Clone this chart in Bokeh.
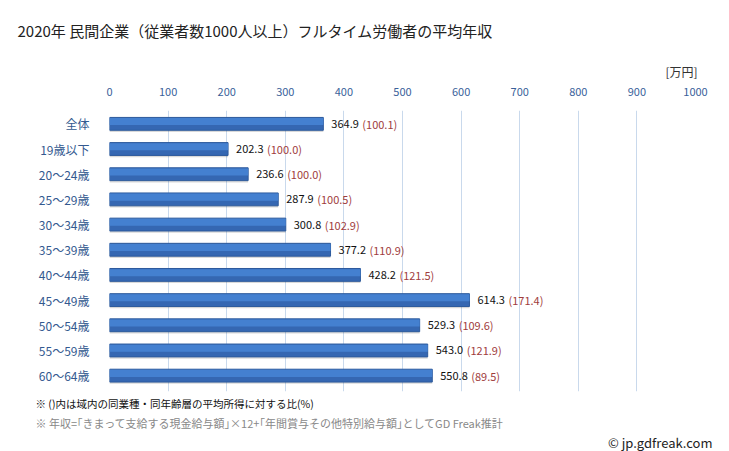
from bokeh.plotting import figure
from bokeh.models import Range1d, Title, LinearAxis, FixedTicker, ColumnDataSource
from bokeh.core.properties import value
from bokeh.transform import dodge
from bokeh.embed import file_html
from bokeh.resources import INLINE

categories = ["全体", "19歳以下", "20～24歳", "25～29歳", "30～34歳", "35～39歳",
              "40～44歳", "45～49歳", "50～54歳", "55～59歳", "60～64歳"]
incomes = [364.9, 202.3, 236.6, 287.9, 300.8, 377.2, 428.2, 614.3, 529.3, 543.0, 550.8]
ratios = [100.1, 100.0, 100.0, 100.5, 102.9, 110.9, 121.5, 171.4, 109.6, 121.9, 89.5]
x_ticks = [0, 100, 200, 300, 400, 500, 600, 700, 800, 900, 1000]

FONT = "Noto Sans CJK JP"
idx = list(range(len(categories)))
src = ColumnDataSource(dict(
    y=idx,
    income=incomes,
    vlab=[f"{v:.1f}" for v in incomes],
    rlab=[f"({r:.1f})" for r in ratios],
))

W, H = 729, 451
L, R, T, B = 109, 695, 110, 393   # frame edges in canvas pixels
p = figure(width=W, height=H, output_backend="svg", toolbar_location=None,
           x_range=Range1d(0, 1000), y_range=Range1d(10.63, -0.53),
           x_axis_location=None, y_axis_location="left",
           min_border_left=L, min_border_right=W - R, min_border_top=T, min_border_bottom=H - B)
p.outline_line_color = None
p.background_fill_color = "white"
p.border_fill_color = "white"

# grid
p.xgrid.ticker = FixedTicker(ticks=x_ticks)
p.xgrid.grid_line_color = "#c9d9ec"
p.xgrid.grid_line_width = 1
p.ygrid.grid_line_color = None

# top axis
ax = LinearAxis(ticker=FixedTicker(ticks=x_ticks))
ax.axis_line_color = None
ax.major_tick_line_color = None
ax.minor_tick_line_color = None
ax.major_label_text_color = "#3a5f9a"
ax.major_label_text_font = FONT
ax.major_label_text_font_size = "11px"
ax.major_label_standoff = 9
p.add_layout(ax, "above")

# left axis
ya = p.yaxis[0]
ya.ticker = FixedTicker(ticks=idx)
ya.major_label_overrides = {i: c for i, c in zip(idx, categories)}
ya.axis_line_color = None
ya.major_tick_line_color = None
ya.minor_tick_line_color = None
ya.major_label_text_color = "#33598f"
ya.major_label_text_font = FONT
ya.major_label_text_font_size = "12px"
ya.major_label_standoff = 14

# shadow + bars
p.hbar(y=dodge("y", 0.07), right="income", left=0, height=0.51, source=src,
       fill_color="#000000", fill_alpha=0.15, line_color=None)
p.hbar(y="y", right="income", left=0, height=0.51, source=src,
       fill_color="#3567b2", line_color="#2d5a9c", line_width=1)
p.hbar(y=dodge("y", -0.09), right="income", left=0, height=0.28, source=src,
       fill_color="#4480d0", line_color=None)

p.text(x="income", y="y", text="vlab", source=src, x_offset=8,
       text_font=value(FONT), text_font_size="11px", text_color="#111111",
       text_baseline="middle", text_align="left")
p.text(x="income", y="y", text="rlab", source=src, x_offset=39,
       text_font=value(FONT), text_font_size="11px", text_color="#a03c3c",
       text_baseline="middle", text_align="left")

def ttl(text, size, color, align, offset, standoff, place, lh=1.2):
    t = Title(text=text, align=align, offset=offset, standoff=standoff,
              text_font=FONT, text_font_size=size, text_color=color,
              text_font_style="normal", text_line_height=lh)
    p.add_layout(t, place)

# unit label sits just above the top axis, title above it
ttl("[万円]", "12px", "#333333", "right", -2, 9, "above")
ttl("2020年 民間企業（従業者数1000人以上）フルタイム労働者の平均年収", "15px", "#222222",
    "left", 17 - L, 31, "above")
# footnotes below the frame
ttl("※ ()内は域内の同業種・同年齢層の平均所得に対する比(%)", "10.5px", "#111111", "left", 35 - L, 4, "below", 1.0)
ttl("※ 年収=｢きまって支給する現金給与額｣×12+｢年間賞与その他特別給与額｣としてGD Freak推計", "11px", "#888888",
    "left", 35 - L, 0, "below", 1.0)
ttl("© jp.gdfreak.com", "13px", "#222222", "right", -(712 - R), 0, "below", 1.0)

open("out.html", "w").write(file_html(p, INLINE))
